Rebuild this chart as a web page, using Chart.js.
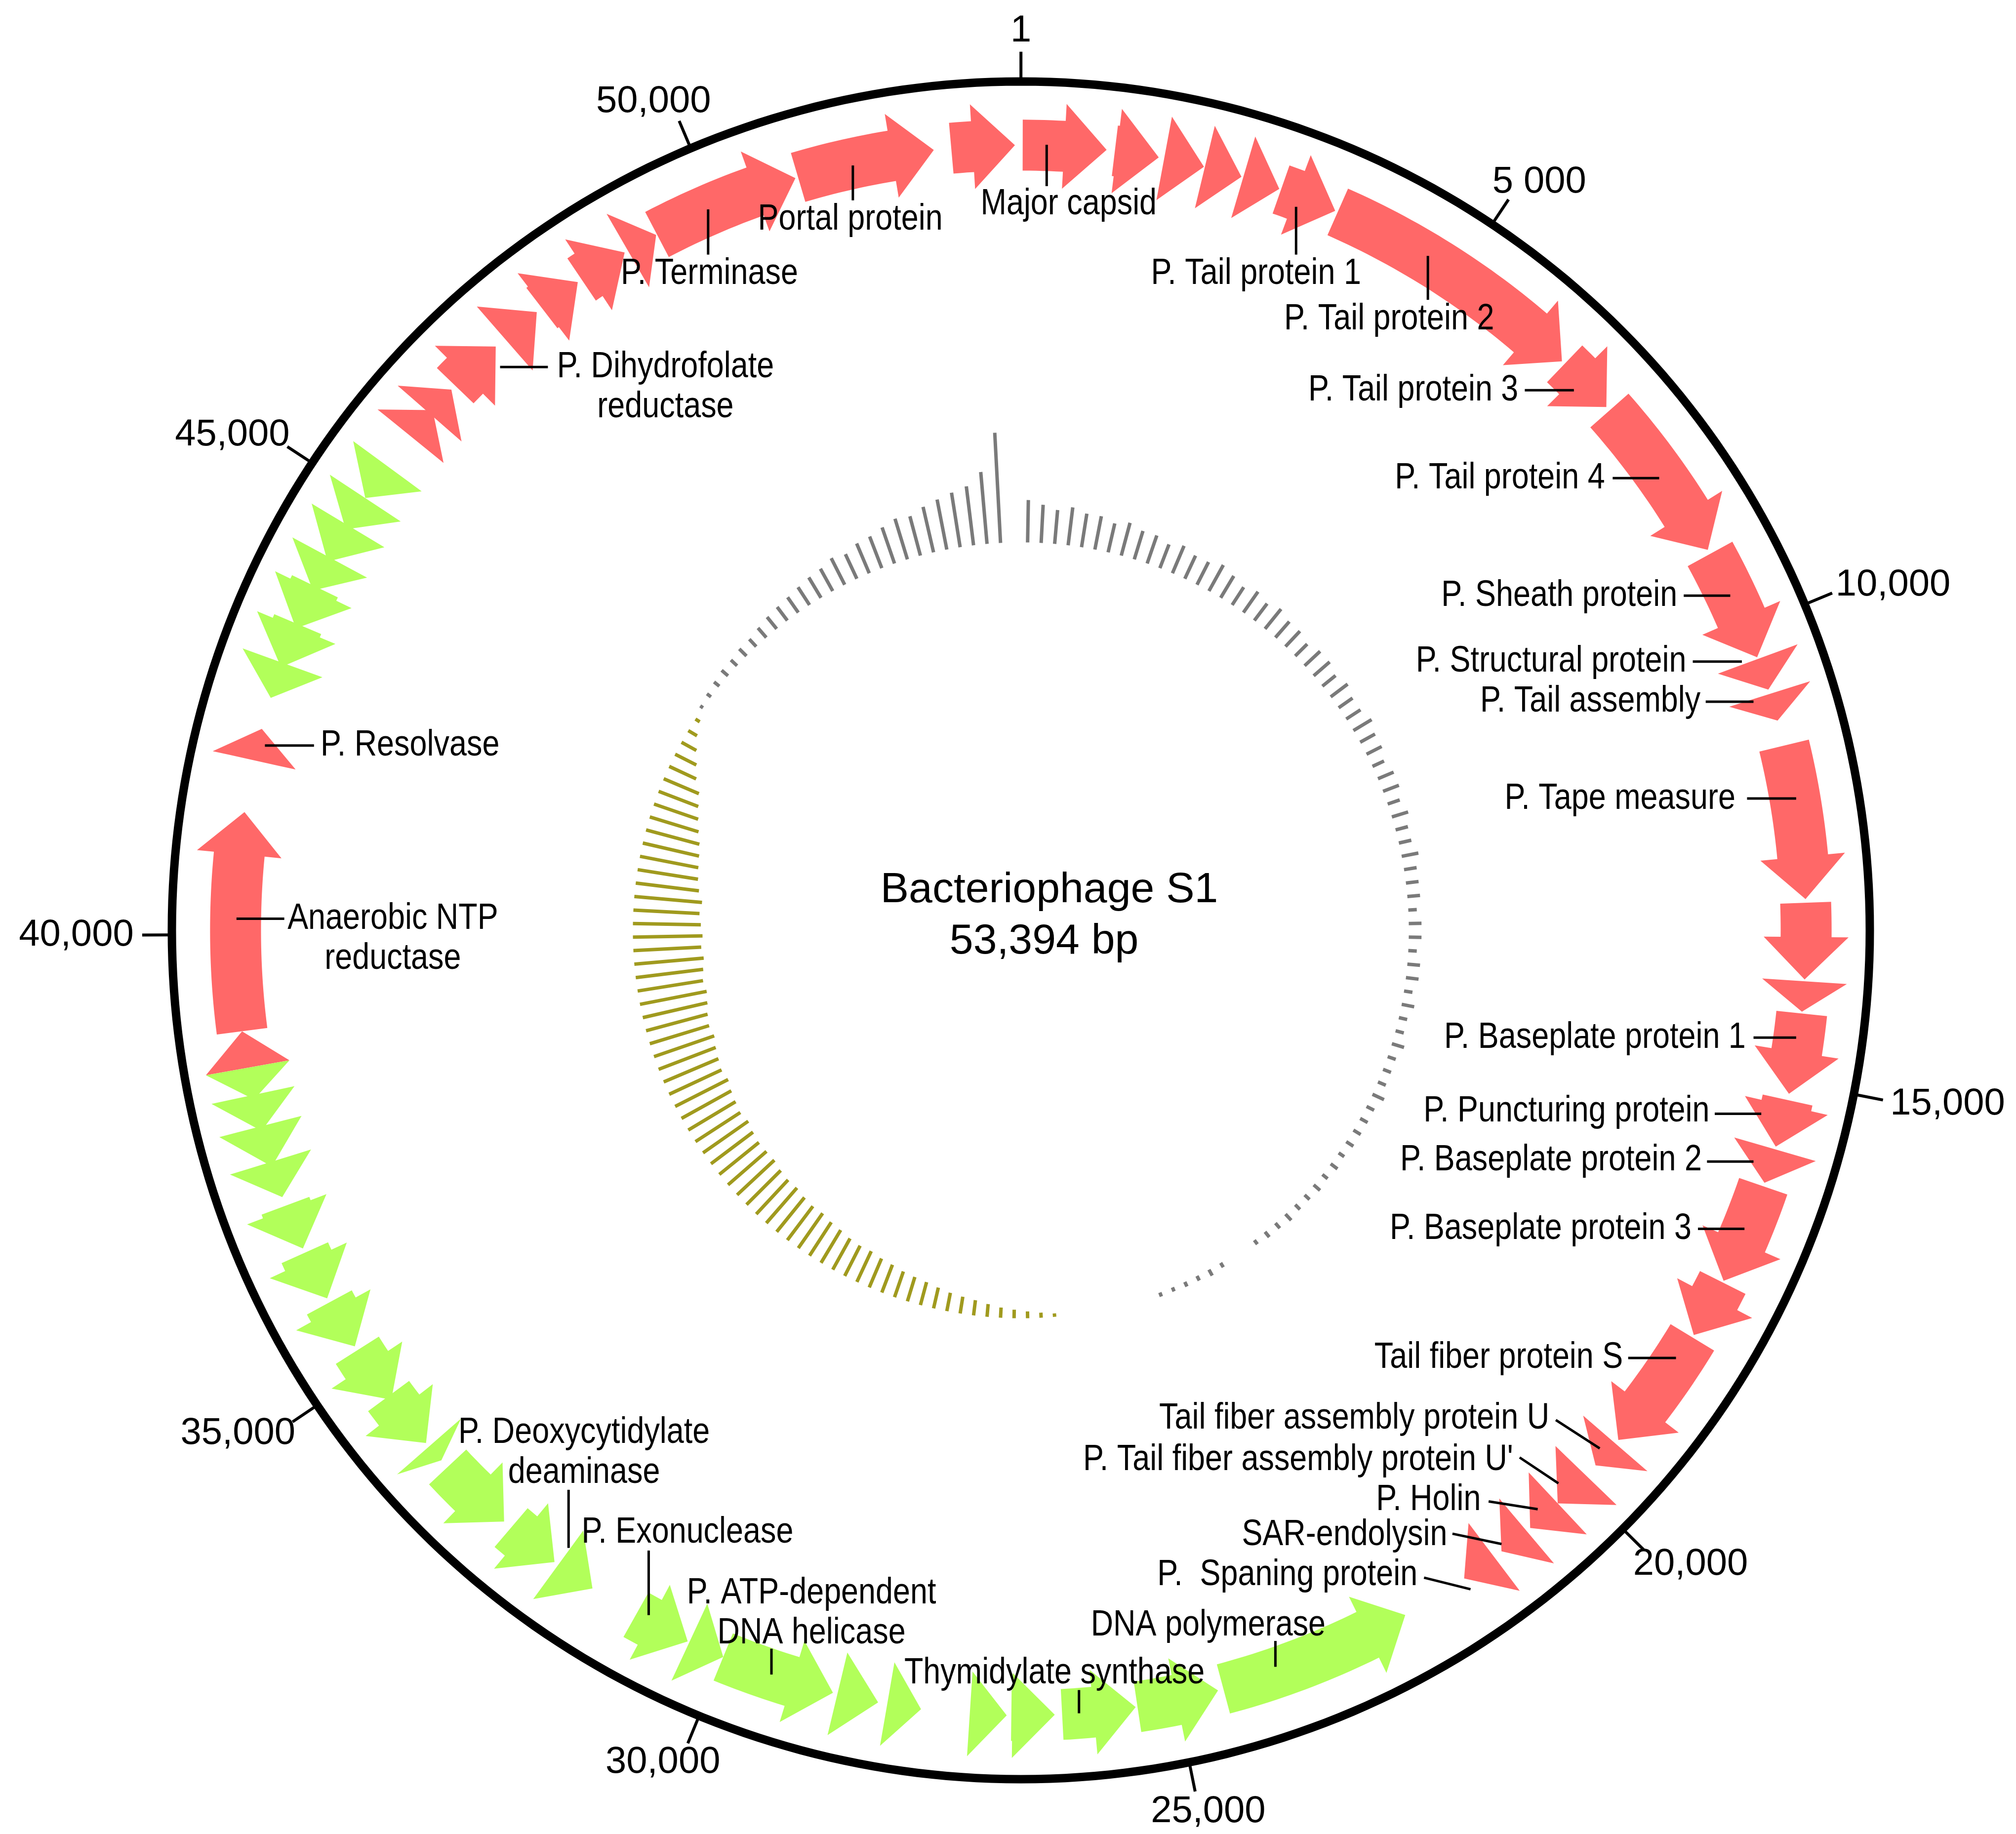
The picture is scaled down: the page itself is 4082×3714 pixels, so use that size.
<!DOCTYPE html>
<html>
<head>
<meta charset="utf-8">
<script src="https://cdn.jsdelivr.net/npm/chart.js@4/dist/chart.umd.min.js"></script>
<style>
  html, body { margin: 0; padding: 0; background: #fff; }
  #wrap { width: 4082px; height: 3714px; position: relative; }
</style>
</head>
<body>
<div id="wrap"><canvas id="map"></canvas></div>
<script>
const GENOME = 53394;

// genes: start, end (bp), strand (+1 clockwise / -1 counter-clockwise)
const plusStart = [52640, 20, 1020, 1560, 2010, 2440, 2870, 3530, 6500, 7200, 9100, 10350, 10750, 11330, 13050, 13900,
  14250, 15200, 15750, 16170, 17300, 17980, 19400, 19870, 20300, 20750, 21200,
  38550, 38950, 41900, 45830, 46150, 46560, 47300, 47820, 48350, 48940, 49300, 50950];
const plusEnd = [53330, 930, 1500, 2000, 2420, 2850, 3500, 6460, 7150, 9050, 10330, 10700, 11050, 13010, 13880, 14230,
  15130, 15720, 16130, 17280, 17950, 19350, 19720, 20300, 20700, 21100, 21600,
  38950, 41330, 42250, 46200, 46500, 47170, 47750, 48300, 48900, 49290, 50920, 52450];
const minusStart = [22350, 24540, 25450, 26330, 26850, 27780, 28250, 28750, 30000, 30420, 31600, 32100, 32800, 33750,
  34000, 34600, 35300, 35900, 36500, 37100, 37450, 37850, 38200, 42600, 42950, 43400, 43850, 44200, 44600, 45000];
const minusEnd = [24480, 25430, 26250, 26800, 27250, 28150, 28700, 30000, 30400, 31050, 32050, 32700, 33650, 33950,
  34650, 35250, 35850, 36450, 37000, 37500, 37900, 38250, 38550, 43000, 43450, 43900, 44250, 44650, 45000, 45420];

// GC skew, one value per 2 degree bin starting at position 1 (fraction of map radius)
const skew = [
  .05, .045, .04, .045, .04,
  .04, .035, .04, .035, .035, .03, .035, .03, .03, .035,
  .03, .025, .03, .025, .03, .025, .025, .02, .025, .025, .02, .025, .02, .02, .025,
  .02, .02, .015, .02, .02, .015, .02, .015, .015, .02, .015, .015, .015, .01, .015,
  .015, .01, .015, .015, .01, .015, .01, .01, .015, .01, .01, .01, .015, .01, .01,
  .01, .01, .008, .01, .008, .01, .008, .008, .01, .008, .008, .006, 0, 0, .006, .008, .006, .006, .005, .005,
  0, 0, 0, 0, 0, 0, 0,
  -.004, -.006, -.008, -.01, -.012, -.015, -.018, -.02,
  -.022, -.025, -.028, -.03, -.032, -.035, -.037, -.04, -.04, -.042,
  -.045, -.047, -.05, -.05, -.052, -.055, -.055, -.057, -.06, -.06, -.06, -.062, -.065, -.063, -.065,
  -.067, -.07, -.068, -.07, -.072, -.075, -.073, -.075, -.078, -.08, -.078, -.08, -.082, -.08, -.082,
  -.08, -.078, -.08, -.075, -.072, -.07, -.068, -.065,
  -.06, -.055, -.05, -.045, -.035, -.028, -.02,
  -.012, -.006, .004,
  .006, .008, .01, .01, .012, .012, .015,
  .018, .02, .022, .025, .028,
  .03, .035, .032, .038, .04,
  .045, .05, .048, .055, .06,
  .065, .07, .085, .13, 0
];

const tickPos = [1, 5000, 10000, 15000, 20000, 25000, 30000, 35000, 40000, 45000, 50000];
const tickText = ['1', '5 000', '10,000', '15,000', '20,000', '25,000', '30,000', '35,000', '40,000', '45,000', '50,000'];

const titleLines = ['Bacteriophage S1', '53,394 bp'];

// gene labels, placed in reference-pixel units (center at 790,720, radius 657)
const geneLabels = [
  { t: ['Major capsid'], x: 827, y: 158, a: 'center', l: [810, 144, 810, 112] },
  { t: ['Portal protein'], x: 658, y: 170, a: 'center', l: [660, 155, 660, 128] },
  { t: ['P. Terminase'], x: 549, y: 212, a: 'center', l: [548, 197, 548, 162] },
  { t: ['P. Dihydrofolate', 'reductase'], x: 515, y: 284, a: 'center', l: [387, 284, 424, 284] },
  { t: ['P. Tail protein 1'], x: 972, y: 212, a: 'center', l: [1003, 197, 1003, 160] },
  { t: ['P. Tail protein 2'], x: 1075, y: 247, a: 'center', l: [1105, 232, 1105, 198] },
  { t: ['P. Tail protein 3'], x: 1175, y: 302, a: 'right', l: [1180, 302, 1218, 302] },
  { t: ['P. Tail protein 4'], x: 1242, y: 370, a: 'right', l: [1248, 370, 1284, 370] },
  { t: ['P. Sheath protein'], x: 1298, y: 461, a: 'right', l: [1303, 461, 1339, 461] },
  { t: ['P. Structural protein'], x: 1305, y: 512, a: 'right', l: [1310, 512, 1348, 512] },
  { t: ['P. Tail assembly'], x: 1316, y: 543, a: 'right', l: [1320, 543, 1357, 543] },
  { t: ['P. Tape measure'], x: 1343, y: 618, a: 'right', l: [1352, 618, 1390, 618] },
  { t: ['P. Baseplate protein 1'], x: 1351, y: 803, a: 'right', l: [1357, 803, 1390, 803] },
  { t: ['P. Puncturing protein'], x: 1323, y: 860, a: 'right', l: [1327, 862, 1363, 862] },
  { t: ['P. Baseplate protein 2'], x: 1317, y: 898, a: 'right', l: [1321, 899, 1357, 899] },
  { t: ['P. Baseplate protein 3'], x: 1309, y: 951, a: 'right', l: [1314, 951, 1350, 951] },
  { t: ['Tail fiber protein S'], x: 1256, y: 1051, a: 'right', l: [1260, 1051, 1297, 1051] },
  { t: ['Tail fiber assembly protein U'], x: 1199, y: 1098, a: 'right', l: [1204, 1099, 1238, 1121] },
  { t: ["P. Tail fiber assembly protein U'"], x: 1171, y: 1130, a: 'right', l: [1176, 1128, 1206, 1148] },
  { t: ['P. Holin'], x: 1146, y: 1161, a: 'right', l: [1152, 1162, 1190, 1168] },
  { t: ['SAR-endolysin'], x: 1120, y: 1188, a: 'right', l: [1124, 1187, 1162, 1195] },
  { t: ['P.  Spaning protein'], x: 1097, y: 1219, a: 'right', l: [1102, 1221, 1138, 1230] },
  { t: ['P. Resolvase'], x: 248, y: 577, a: 'left', l: [205, 577, 243, 577] },
  { t: ['Anaerobic NTP', 'reductase'], x: 304, y: 711, a: 'center', l: [183, 711, 220, 711] },
  { t: ['P. Deoxycytidylate', 'deaminase'], x: 452, y: 1109, a: 'center', l: [440, 1153, 440, 1198] },
  { t: ['P. Exonuclease'], x: 532, y: 1186, a: 'center', l: [502, 1200, 502, 1250] },
  { t: ['P. ATP-dependent', 'DNA helicase'], x: 628, y: 1233, a: 'center', l: [597, 1276, 597, 1296] },
  { t: ['Thymidylate synthase'], x: 816, y: 1295, a: 'center', l: [835, 1308, 835, 1326] },
  { t: ['DNA polymerase'], x: 935, y: 1258, a: 'center', l: [987, 1270, 987, 1290] }
];

const RED = '#ff6868', GREEN = '#b2ff5a', GREY = '#7a7a7a', OLIVE = '#a09a1e';
const RC = 0.925, BODY = 0.03, HEAD = 0.05, HEADLEN = 0.05;

function ang (bp) { return bp / GENOME * 2 * Math.PI; }
function pt (r, a) { return { x: r * Math.sin(a), y: r * Math.cos(a) }; }

function arrowPoly (start, end, strand)
{
   let a0 = ang(start), a1 = ang(end);
   if (a1 < a0) a1 += 2 * Math.PI;
   let hl = Math.min(HEADLEN / RC, a1 - a0);
   let tip = strand > 0 ? a1 : a0;
   let base = strand > 0 ? a1 - hl : a0 + hl;
   let tail = strand > 0 ? a0 : a1;
   let pts = [], n = Math.max(2, Math.ceil(Math.abs(base - tail) / 0.01));
   for (let i = 0; i <= n; i++) pts.push(pt(RC + BODY, tail + (base - tail) * i / n));
   pts.push(pt(RC + HEAD, base));
   pts.push(pt(RC, tip));
   pts.push(pt(RC - HEAD, base));
   for (let i = n; i >= 0; i--) pts.push(pt(RC - BODY, tail + (base - tail) * i / n));
   return pts;
}

let datasets = [];
for (let i = 0; i < plusStart.length; i++)
   datasets.push({ kind: 'poly', color: RED, data: arrowPoly(plusStart[i], plusEnd[i], 1) });
for (let i = 0; i < minusStart.length; i++)
   datasets.push({ kind: 'poly', color: GREEN, data: arrowPoly(minusStart[i], minusEnd[i], -1) });

// skew bars
let greySegs = [], oliveSegs = [];
const SKEW_R = 0.457;
for (let i = 0; i < skew.length; i++)
{
   if (skew[i] === 0) continue;
   let a = (2 * i + 1) * Math.PI / 180;
   let seg = [pt(SKEW_R, a), pt(SKEW_R + skew[i], a)];
   (skew[i] > 0 ? greySegs : oliveSegs).push(...seg);
}
datasets.push({ kind: 'segs', color: GREY, width: 7, data: greySegs });
datasets.push({ kind: 'segs', color: OLIVE, width: 7, data: oliveSegs });

// outer circle and ticks
let ring = [];
for (let d = 0; d < 360; d++) ring.push(pt(1, d * Math.PI / 180));
datasets.push({ kind: 'ring', color: '#000', width: 17, data: ring });
let tickSegs = [];
tickPos.forEach(p => tickSegs.push(pt(1, ang(p)), pt(1.035, ang(p))));
datasets.push({ kind: 'segs', color: '#000', width: 6, data: tickSegs });

datasets.forEach(d => { d.pointRadius = 0; d.showLine = false; });

const mapPlugin = {
   id: 'mapPlugin',
   afterDatasetsDraw (chart)
   {
      const ctx = chart.ctx;
      ctx.save();
      chart.data.datasets.forEach((ds, k) => {
         const pts = chart.getDatasetMeta(k).data;
         if (ds.kind === 'poly' || ds.kind === 'ring')
         {
            ctx.beginPath();
            pts.forEach((p, i) => i ? ctx.lineTo(p.x, p.y) : ctx.moveTo(p.x, p.y));
            ctx.closePath();
            if (ds.kind === 'poly') { ctx.fillStyle = ds.color; ctx.fill(); }
            else { ctx.strokeStyle = ds.color; ctx.lineWidth = ds.width; ctx.stroke(); }
         }
         else if (ds.kind === 'segs')
         {
            ctx.strokeStyle = ds.color; ctx.lineWidth = ds.width;
            ctx.beginPath();
            for (let i = 0; i + 1 < pts.length; i += 2)
            {
               ctx.moveTo(pts[i].x, pts[i].y);
               ctx.lineTo(pts[i + 1].x, pts[i + 1].y);
            }
            ctx.stroke();
         }
      });

      const xs = chart.scales.x, ys = chart.scales.y;
      const P = (x, y) => ({ x: xs.getPixelForValue(x), y: ys.getPixelForValue(y) });
      const D = (x, y) => P((x - 790) / 657, (720 - y) / 657);

      // tick labels
      ctx.fillStyle = '#000';
      ctx.font = '76px "Liberation Sans", Arial, sans-serif';
      ctx.textAlign = 'center'; ctx.textBaseline = 'middle';
      const unit = xs.getPixelForValue(1) - xs.getPixelForValue(0);
      tickPos.forEach((p, i) => {
         const a = ang(p), w = ctx.measureText(tickText[i]).width / unit, h = 50 / unit;
         const r = 1.045;
         const q = P(r * Math.sin(a) + Math.sin(a) * w / 2, r * Math.cos(a) + Math.cos(a) * h / 2);
         ctx.fillText(tickText[i], q.x, q.y);
      });

      // center title
      ctx.font = '86px "Liberation Sans", Arial, sans-serif';
      let c = D(812, 689); ctx.fillText(titleLines[0], c.x, c.y);
      c = D(808, 729); ctx.fillText(titleLines[1], c.x, c.y);

      // gene labels (condensed)
      ctx.font = '500 74px "Liberation Sans Narrow", "Liberation Sans", sans-serif';
      ctx.strokeStyle = '#000'; ctx.lineWidth = 5;
      geneLabels.forEach(g => {
         ctx.textAlign = g.a;
         g.t.forEach((s, j) => {
            const q = D(g.x, g.y + j * 31);
            ctx.save(); ctx.translate(q.x, q.y); ctx.scale(0.85, 1);
            ctx.fillText(s, 0, 0);
            ctx.restore();
         });
         const a = D(g.l[0], g.l[1]), b = D(g.l[2], g.l[3]);
         ctx.beginPath(); ctx.moveTo(a.x, a.y); ctx.lineTo(b.x, b.y); ctx.stroke();
      });
      ctx.restore();
   }
};

Chart.defaults.devicePixelRatio = 1;
new Chart(document.getElementById('map'), {
   type: 'scatter',
   data: { datasets: datasets },
   options: {
      responsive: true,
      maintainAspectRatio: false,
      animation: false,
      layout: { padding: 0 },
      plugins: { legend: { display: false }, tooltip: { enabled: false } },
      scales: {
         x: { type: 'linear', display: false, min: -2067 / 1719, max: (4082 - 2067) / 1719 },
         y: { type: 'linear', display: false, min: -(3714 - 1884) / 1719, max: 1884 / 1719 }
      }
   },
   plugins: [mapPlugin]
});
</script>
</body>
</html>
